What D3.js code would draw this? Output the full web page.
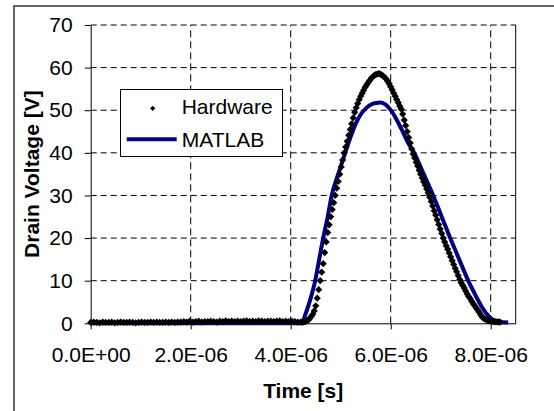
<!DOCTYPE html>
<html>
<head>
<meta charset="utf-8">
<script src="https://cdn.jsdelivr.net/npm/d3@7"></script>
<style>
  body { margin: 0; background: #fff; }
  svg { display: block; font-family: "Liberation Sans", Arial, sans-serif; }
</style>
</head>
<body>
<script>
const width = 554, height = 411;

// time axis is kept in microseconds, labels written as in the original
const xTickValues = [0, 2, 4, 6, 8];
const xTickLabels = ["0.0E+00", "2.0E-06", "4.0E-06", "6.0E-06", "8.0E-06"];
const yTickValues = [0, 10, 20, 30, 40, 50, 60, 70];
const yTickLabels = ["0", "10", "20", "30", "40", "50", "60", "70"];
const seriesNames = ["Hardware", "MATLAB"];

// measured drain voltage, [time us, V]
const hardware = [
  [0.00,0.2],[0.06,0.3],[0.12,0.2],[0.18,0.1],[0.24,0.3],[0.30,0.2],[0.36,0.2],[0.42,0.3],[0.48,0.1],[0.54,0.2],
  [0.60,0.3],[0.66,0.2],[0.72,0.2],[0.78,0.3],[0.84,0.2],[0.90,0.1],[0.96,0.2],[1.02,0.3],[1.08,0.2],[1.14,0.2],
  [1.20,0.3],[1.26,0.2],[1.32,0.3],[1.38,0.2],[1.44,0.2],[1.50,0.3],[1.56,0.2],[1.62,0.3],[1.68,0.2],[1.74,0.3],
  [1.80,0.3],[1.86,0.4],[1.92,0.3],[1.98,0.5],[2.04,0.3],[2.10,0.4],[2.16,0.5],[2.22,0.3],[2.28,0.4],[2.34,0.4],
  [2.40,0.5],[2.46,0.4],[2.52,0.3],[2.58,0.5],[2.64,0.4],[2.70,0.6],[2.76,0.4],[2.82,0.5],[2.88,0.4],[2.94,0.5],
  [3.00,0.4],[3.06,0.5],[3.12,0.6],[3.18,0.4],[3.24,0.5],[3.30,0.4],[3.36,0.6],[3.42,0.5],[3.48,0.4],[3.54,0.5],
  [3.60,0.5],[3.66,0.4],[3.72,0.5],[3.78,0.6],[3.84,0.4],[3.90,0.5],[3.96,0.4],[4.02,0.5],[4.08,0.4],[4.14,0.3],
  [4.20,0.3],[4.23,0.3],[4.26,0.35],[4.29,0.4],[4.32,0.55],[4.35,0.75],[4.38,1.1],[4.41,1.6],[4.44,2.1],[4.47,2.9],
  [4.50,4.1],[4.53,5.9],[4.56,7.9],[4.59,10.0],[4.62,12.0],[4.65,14.0],[4.68,16.6],[4.71,19.1],[4.74,21.3],[4.77,23.1],
  [4.80,25.0],[4.83,26.7],[4.86,28.3],[4.89,30.0],[4.92,31.7],[4.95,33.3],[4.98,35.0],[5.01,36.7],[5.04,38.3],[5.07,40.0],
  [5.10,41.4],[5.13,42.7],[5.16,44.1],[5.19,45.5],[5.22,46.8],[5.25,48.2],[5.28,49.5],[5.31,50.6],[5.34,51.6],[5.37,52.5],
  [5.40,53.3],[5.43,54.0],[5.46,54.7],[5.49,55.4],[5.52,56.0],[5.55,56.5],[5.58,57.0],[5.61,57.5],[5.64,57.8],[5.67,58.2],
  [5.70,58.35],[5.73,58.5],[5.76,58.6],[5.79,58.45],[5.82,58.3],[5.85,58.0],[5.88,57.7],[5.91,57.3],[5.94,56.8],[5.97,56.2],
  [6.00,55.5],[6.03,54.8],[6.06,54.0],[6.09,53.3],[6.12,52.5],[6.15,51.8],[6.18,51.0],[6.21,50.3],[6.24,49.1],[6.27,47.7],
  [6.30,46.4],[6.33,45.0],[6.36,43.6],[6.39,42.3],[6.42,40.9],[6.45,39.7],[6.48,38.8],[6.51,37.8],[6.54,36.9],[6.57,35.9],
  [6.60,35.0],[6.63,34.1],[6.66,33.2],[6.69,32.4],[6.72,31.5],[6.75,30.6],[6.78,29.6],[6.81,28.6],[6.84,27.5],[6.87,26.4],
  [6.90,25.4],[6.93,24.3],[6.96,23.2],[6.99,22.1],[7.02,21.1],[7.05,20.0],[7.08,19.1],[7.11,18.2],[7.14,17.4],[7.17,16.5],
  [7.20,15.6],[7.23,14.7],[7.26,13.8],[7.29,12.9],[7.32,12.1],[7.35,11.2],[7.38,10.3],[7.41,9.5],[7.44,8.9],[7.47,8.3],
  [7.50,7.6],[7.53,6.9],[7.56,6.3],[7.59,5.8],[7.62,5.2],[7.65,4.6],[7.68,4.1],[7.71,3.6],[7.74,3.1],[7.77,2.6],
  [7.80,2.0],[7.83,1.5],[7.86,1.15],[7.89,0.96],[7.92,0.78],[7.95,0.6],[7.98,0.54],[8.01,0.48],[8.04,0.42],[8.07,0.38],
  [8.10,0.36],[8.13,0.34],[8.16,0.32],[8.19,0.3]
];

// simulated drain voltage, [time us, V]
const matlab = [
  [0.00,0],[4.22,0],[4.30,2.3],[4.40,5.9],[4.49,10],[4.57,15],[4.65,20],[4.74,25],[4.82,30],[4.95,35],
  [5.09,40],[5.20,43.8],[5.30,46.8],[5.40,49],[5.51,50.5],[5.60,51.3],[5.70,51.7],[5.80,51.8],[5.90,51.3],[5.99,50.2],
  [6.10,48.2],[6.24,45],[6.35,42.3],[6.47,40],[6.66,35],[6.85,30],[7.02,25],[7.19,20],[7.37,15],[7.55,10],
  [7.70,6.5],[7.82,3.9],[7.95,1.8],[8.05,0.8],[8.15,0.4],[8.25,0.25],[8.35,0.2]
];

const plot = {left: 90.7, right: 515.7, top: 25, bottom: 323.3};
const fontSize = 21;

const x = d3.scaleLinear().domain([0, 8.5]).range([plot.left, plot.right]);
const y = d3.scaleLinear().domain([0, 70]).range([plot.bottom, plot.top]);

const svg = d3.select("body").append("svg")
    .attr("width", width)
    .attr("height", height);

// chart area border (only left and top edges fall inside the picture)
svg.append("rect")
    .attr("x", 14).attr("y", 6)
    .attr("width", 600).attr("height", 500)
    .attr("fill", "none")
    .attr("stroke", "#333")
    .attr("stroke-width", 1.5);

// grid
svg.append("g").selectAll("line")
    .data(yTickValues.slice(1))
  .enter().append("line")
    .attr("x1", x(0)).attr("x2", x(8.5))
    .attr("y1", d => y(d)).attr("y2", d => y(d))
    .attr("stroke", "#000")
    .attr("stroke-dasharray", "6,4");

svg.append("g").selectAll("line")
    .data(xTickValues.slice(1))
  .enter().append("line")
    .attr("x1", d => x(d)).attr("x2", d => x(d))
    .attr("y1", y(0)).attr("y2", y(70))
    .attr("stroke", "#000")
    .attr("stroke-dasharray", "7,4");

// right edge of plot area
svg.append("line")
    .attr("x1", x(8.5)).attr("x2", x(8.5))
    .attr("y1", y(0)).attr("y2", y(70))
    .attr("stroke", "#000");

// axes
const xAxis = svg.append("g")
    .attr("transform", "translate(0," + y(0) + ")")
    .call(d3.axisBottom(x)
      .tickValues(xTickValues)
      .tickFormat((d, i) => xTickLabels[i])
      .tickSize(6).tickSizeOuter(0).tickPadding(18));

const yAxis = svg.append("g")
    .attr("transform", "translate(" + x(0) + ",0)")
    .call(d3.axisLeft(y)
      .tickValues(yTickValues)
      .tickFormat((d, i) => yTickLabels[i])
      .tickSize(6).tickSizeOuter(0).tickPadding(12));

[xAxis, yAxis].forEach(g => {
  g.attr("font-family", null).attr("font-size", fontSize);
  g.selectAll("text").attr("fill", "#000");
  g.selectAll("line, path").attr("stroke", "#000");
});

// MATLAB curve
const line = d3.line()
    .x(d => x(d[0]))
    .y(d => y(d[1]))
    .curve(d3.curveMonotoneX);

svg.append("path")
    .datum(matlab)
    .attr("d", line)
    .attr("fill", "none")
    .attr("stroke", "#000080")
    .attr("stroke-width", 4)
    .attr("stroke-linejoin", "round");

// hardware diamonds
const diamond = d3.symbol(d3.symbolSquare, 26);
svg.append("g").selectAll("path")
    .data(hardware)
  .enter().append("path")
    .attr("d", diamond)
    .attr("transform", d => "translate(" + x(d[0]) + "," + y(d[1]) + ") rotate(45)")
    .attr("fill", "#000");

// axis titles
svg.append("text")
    .attr("x", (plot.left + plot.right) / 2)
    .attr("y", 398)
    .attr("text-anchor", "middle")
    .attr("font-size", fontSize)
    .attr("font-weight", "bold")
    .text("Time [s]");

svg.append("text")
    .attr("transform", "translate(39," + (plot.top + plot.bottom) / 2 + ") rotate(-90)")
    .attr("text-anchor", "middle")
    .attr("font-size", fontSize)
    .attr("font-weight", "bold")
    .text("Drain Voltage [V]");

// legend
const legend = svg.append("g");
legend.append("rect")
    .attr("x", 120.5).attr("y", 89.5)
    .attr("width", 162).attr("height", 67)
    .attr("fill", "#fff")
    .attr("stroke", "#000");

legend.append("path")
    .attr("d", d3.symbol(d3.symbolSquare, 14))
    .attr("transform", "translate(152.7,108.3) rotate(45)")
    .attr("fill", "#000");

legend.append("line")
    .attr("x1", 126.7).attr("x2", 176.7)
    .attr("y1", 139.3).attr("y2", 139.3)
    .attr("stroke", "#000080")
    .attr("stroke-width", 4);

legend.selectAll("text")
    .data(seriesNames)
  .enter().append("text")
    .attr("x", 181.7)
    .attr("y", (d, i) => i === 0 ? 113.5 : 146.7)
    .attr("font-size", fontSize)
    .text(d => d);
</script>
</body>
</html>
